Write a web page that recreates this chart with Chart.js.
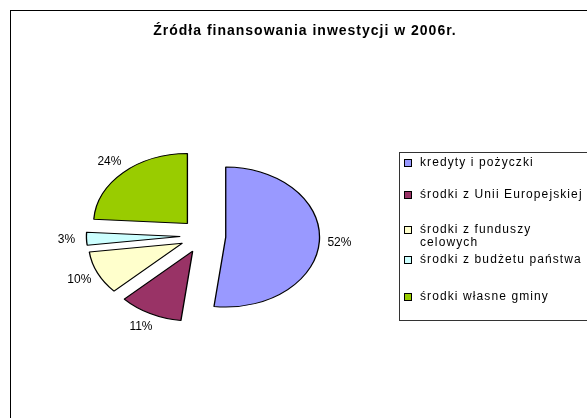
<!DOCTYPE html>
<html>
<head>
<meta charset="utf-8">
<script src="https://cdn.jsdelivr.net/npm/chart.js@4.4.1/dist/chart.umd.min.js"></script>
<style>
  html, body { margin: 0; padding: 0; background: #fff; width: 587px; height: 418px; overflow: hidden; }
  #frame { position: absolute; left: 10px; top: 10px; width: 620px; height: 450px;
           border-left: 1px solid #000; border-top: 1px solid #000; }
  #chartTitle { position: absolute; left: 0; top: 11px; width: 588px; text-align: center;
                font: bold 14px 'Liberation Sans', Arial, sans-serif; letter-spacing: 1px; color: #000; }
  #pieCanvas { position: absolute; left: 0; top: 0; }
  #legend { position: absolute; left: 388px; top: 141px; width: 230px; height: 167px;
            border: 1px solid #333; font: 12px 'Liberation Sans', Arial, sans-serif;
            letter-spacing: 1.1px; color: #000; }
  .item { position: absolute; left: 20px; line-height: 13px; white-space: pre-line; }
  .item i { position: absolute; left: -16px; top: 3px; width: 6px; height: 6px; border: 1px solid #000; }
</style>
</head>
<body>
<div id="frame">
  <canvas id="pieCanvas" width="588" height="430"></canvas>
  <div id="chartTitle"></div>
  <div id="legend"></div>
</div>
<script>
// chart data
const titleText = 'Źródła finansowania inwestycji w 2006r.';
const categories = ['kredyty i pożyczki', 'środki z Unii Europejskiej', 'środki z funduszy\ncelowych', 'środki z budżetu państwa', 'środki własne gminy'];
const shares = [52, 11, 10, 3, 24];
const sliceColors = ['#9999FF', '#993366', '#FFFFCC', '#CCFFFF', '#99CC00'];

// look of the old spreadsheet pie: squashed ellipse, all slices pulled out
const stretchX = 1.34;
const explode = 17;
const legendRowTop = [3, 35, 70, 100, 137];

document.getElementById('chartTitle').textContent = titleText;

// html legend built from the same arrays
const legend = document.getElementById('legend');
categories.forEach((name, i) => {
  const row = document.createElement('div');
  row.className = 'item';
  row.style.top = legendRowTop[i] + 'px';
  row.innerHTML = `<i style="background:${sliceColors[i]}"></i>`;
  row.appendChild(document.createTextNode(name));
  legend.appendChild(row);
});

const explodedPie = {
  id: 'explodedPie',
  beforeDatasetDraw(chart, args) {
    const ctx = chart.ctx;
    args.meta.data.forEach(arc => {
      const mid = (arc.startAngle + arc.endAngle) / 2;
      ctx.save();
      ctx.translate(arc.x, arc.y);
      ctx.scale(stretchX, 1);
      ctx.translate(Math.cos(mid) * explode - arc.x, Math.sin(mid) * explode - arc.y);
      arc.draw(ctx);
      ctx.restore();
    });
    return false;
  },
  afterDatasetsDraw(chart) {
    const ctx = chart.ctx;
    const meta = chart.getDatasetMeta(0);
    ctx.save();
    ctx.font = '12px "Liberation Sans", Arial, sans-serif';
    ctx.fillStyle = '#000';
    ctx.textAlign = 'center';
    ctx.textBaseline = 'middle';
    meta.data.forEach((arc, i) => {
      const mid = (arc.startAngle + arc.endAngle) / 2;
      const dist = arc.outerRadius + explode + 15;
      ctx.fillText(shares[i] + '%', arc.x + Math.cos(mid) * dist * stretchX, arc.y + Math.sin(mid) * dist);
    });
    ctx.restore();
  }
};

new Chart(document.getElementById('pieCanvas'), {
  type: 'pie',
  data: {
    labels: categories,
    datasets: [{
      data: shares,
      backgroundColor: sliceColors,
      borderColor: '#000',
      borderWidth: 1
    }]
  },
  options: {
    responsive: false,
    animation: false,
    events: [],
    radius: 70,
    layout: { padding: { left: 0, right: 204, top: 20, bottom: 0 } },
    plugins: {
      legend: { display: false },
      title: { display: false },
      tooltip: { enabled: false }
    }
  },
  plugins: [explodedPie]
});
</script>
</body>
</html>
